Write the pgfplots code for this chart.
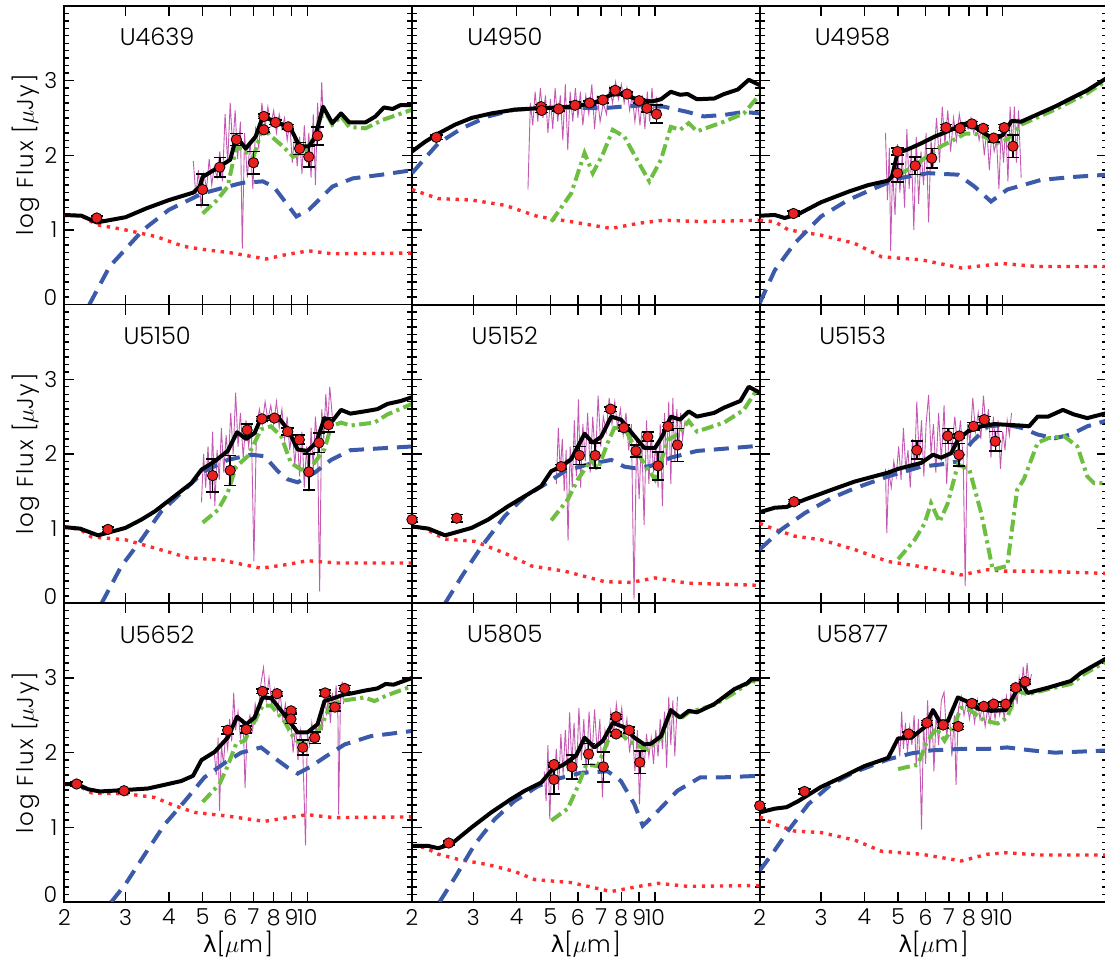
\documentclass[border=0pt]{standalone}
\usepackage{fontspec}
\setmainfont{Poppins}[UprightFont=* Light]
\newfontfamily\labfont{Poppins}[UprightFont=* Light, LetterSpace=8]
\newfontfamily\greekfont{DejaVu Sans}
\usepackage{pgfplots}
\pgfplotsset{compat=1.18}
\definecolor{mblue}{RGB}{60,90,170}
\definecolor{mred}{RGB}{255,45,45}
\definecolor{mgreen}{RGB}{110,190,65}
\definecolor{mmag}{RGB}{185,60,165}
\definecolor{pred}{RGB}{232,32,32}
\pgfplotsset{
 every axis/.append style={
  xmode=log, xmin=2, xmax=20, ymin=0, ymax=4,
  width=173.85pt, height=149.35pt, scale only axis, anchor=south west,
  axis line style={line width=0.9pt},
  tick align=inside,
  xtick={2,3,4,5,6,7,8,9,10,20}, minor xtick={}, xticklabels={},
  ytick={0,1,2,3}, yticklabels={},
  minor ytick={0.1,0.2,0.3,0.4,0.5,0.6,0.7,0.8,0.9,1.1,1.2,1.3,1.4,1.5,1.6,1.7,1.8,1.9,2.1,2.2,2.3,2.4,2.5,2.6,2.7,2.8,2.9,3.1,3.2,3.3,3.4,3.5,3.6,3.7,3.8,3.9},
  major tick length=5pt, minor tick length=2.5pt,
  tick style={line width=0.7pt, black},
  tick label style={font=\fontsize{11}{12}\selectfont},
  label style={font=\labfont\fontsize{11.5}{13}\selectfont},
 },
 sedbottom/.style={xticklabels={2,3,4,5,6,7,8,9,10,}, xlabel={{\greekfont λ}[$\mu$m]},
   xlabel style={yshift=4pt}},
 sedleft/.style={yticklabels={\raisebox{7pt}{0},1,2,3}, ylabel={log Flux [$\mu$Jy]},
   ylabel style={at={(axis description cs:-0.11,0.5)}, anchor=center}},
 sedspec/.style={mmag, line width=0.45pt, opacity=0.85},
 seddot/.style={mred, line width=1.7pt, dash pattern=on 1.7pt off 2.8pt},
 seddash/.style={mblue, line width=2pt, dash pattern=on 7.5pt off 4.5pt},
 seddashdot/.style={mgreen, line width=2pt, dash pattern=on 6pt off 2.2pt on 1.6pt off 2.2pt},
 sedblack/.style={black, line width=2pt, line join=round},
 sedpts/.style={only marks, mark=*, mark size=2.6pt, mark options={fill=pred, draw=black, line width=0.4pt},
   error bars/y dir=both, error bars/y explicit, error bars/error bar style={black, line width=0.8pt},
   error bars/error mark options={rotate=90, black, mark size=3.1pt, line width=0.8pt}},
}
\tikzset{sedname/.style={font=\fontsize{12}{13}\selectfont}}
\begin{document}
\begin{tikzpicture}
\path[use as bounding box] (0,0) rectangle (552.5pt,482.5pt);
% ---------------- U4639
\begin{axis}[sedleft, at={(32.15pt,330.2pt)}]
\addplot[sedspec] coordinates {(4.70,1.92)(4.78,1.45)(4.86,1.80)(4.95,1.30)(5.04,1.75)(5.13,1.55)(5.22,1.95)(5.31,1.60)(5.40,1.85)(5.50,1.70)(5.60,2.05)(5.70,1.65)(5.80,2.55)(5.90,1.90)(6.00,2.70)(6.10,2.10)(6.20,2.60)(6.30,1.95)(6.42,2.45)(6.50,0.75)(6.60,2.30)(6.72,1.70)(6.85,2.20)(6.97,1.55)(7.10,2.35)(7.25,2.10)(7.40,2.70)(7.55,2.35)(7.70,2.65)(7.85,2.40)(8.00,2.60)(8.15,2.30)(8.30,2.55)(8.45,2.35)(8.60,2.50)(8.75,2.20)(8.90,2.45)(9.05,1.90)(9.20,2.30)(9.35,1.85)(9.50,2.25)(9.65,1.75)(9.80,2.40)(9.95,1.90)(10.1,2.30)(10.25,1.70)(10.4,2.55)(10.55,1.60)(10.7,2.70)(10.85,2.20)(11.0,2.98)(11.1,2.50)};
\addplot[seddot] coordinates {(2,1.20)(2.24,1.19)(2.48,1.07)(3.0,1.0)(3.68,0.91)(4.4,0.78)(5.0,0.74)(6.1,0.69)(7.6,0.61)(8.7,0.67)(10.1,0.72)(11.8,0.68)(20,0.69)};
\addplot[seddash] coordinates {(2.36,0.0)(2.70,0.51)(3.37,1.0)(4.0,1.27)(5.0,1.49)(5.9,1.58)(6.5,1.63)(7.45,1.65)(8,1.58)(9.3,1.18)(10.1,1.27)(11.8,1.58)(13.5,1.69)(16.4,1.74)(20,1.80)};
\addplot[seddashdot] coordinates {(5.0,1.22)(5.5,1.40)(5.9,1.58)(6.25,2.12)(7.0,1.98)(7.45,2.38)(7.8,2.27)(8.5,2.12)(9.1,1.98)(10,2.09)(10.6,2.29)(11.1,2.63)(11.8,2.41)(12.5,2.52)(13.2,2.38)(14.7,2.36)(16.4,2.47)(20,2.61)};
\addplot[sedblack] coordinates {(2,1.20)(2.24,1.19)(2.48,1.10)(3.0,1.17)(3.45,1.29)(4.0,1.40)(4.7,1.50)(4.9,1.58)(5.0,1.71)(5.6,1.85)(6.0,1.94)(6.25,2.25)(6.65,2.09)(7.1,2.25)(7.45,2.52)(8.0,2.46)(8.5,2.41)(9.0,2.34)(9.5,2.12)(10.1,2.12)(10.5,2.23)(11.1,2.65)(11.8,2.43)(12.5,2.56)(13.2,2.44)(14.7,2.44)(15.7,2.52)(16.6,2.64)(17.6,2.62)(18.5,2.67)(20,2.67)};
\addplot[sedpts] table[y error index=2] {
x y e
2.48 1.16 0.03
5.0 1.54 0.21
5.6 1.84 0.13
6.25 2.21 0.08
7.0 1.90 0.15
7.5 2.52 0.03
7.5 2.34 0.03
8.1 2.44 0.03
8.8 2.38 0.03
9.5 2.09 0.08
10.1 1.98 0.14
10.7 2.26 0.12
};
\node[sedname] at (rel axis cs:0.267,0.896) {U4639};
\end{axis}
% ---------------- U4950
\begin{axis}[at={(206.0pt,330.2pt)}]
\addplot[sedspec] coordinates {(4.31,1.54)(4.38,2.70)(4.45,2.40)(4.52,2.85)(4.60,2.45)(4.68,2.90)(4.76,2.50)(4.84,2.80)(4.92,2.30)(5.00,2.75)(5.08,2.35)(5.16,2.90)(5.25,2.45)(5.34,2.80)(5.43,2.20)(5.52,2.95)(5.61,2.07)(5.70,2.85)(5.80,2.45)(5.90,2.90)(6.00,2.50)(6.10,2.85)(6.20,2.40)(6.32,2.80)(6.45,2.55)(6.58,2.95)(6.70,2.35)(6.82,2.80)(6.95,2.45)(7.10,2.70)(7.25,2.55)(7.40,2.90)(7.55,2.70)(7.70,2.98)(7.85,2.75)(8.00,2.95)(8.15,2.70)(8.30,2.90)(8.45,2.60)(8.60,2.80)(8.75,2.45)(8.90,2.75)(9.05,2.40)(9.20,2.80)(9.35,2.35)(9.50,2.85)(9.65,2.45)(9.80,2.90)(9.95,2.50)(10.1,2.75)(10.25,2.55)(10.4,2.70)};
\addplot[seddot] coordinates {(2,1.54)(2.38,1.42)(2.97,1.40)(3.7,1.33)(4.6,1.18)(5.74,1.11)(7.48,1.02)(9,1.09)(10.6,1.13)(13.8,1.11)(20,1.13)};
\addplot[seddash] coordinates {(2,1.76)(2.18,1.96)(2.38,2.16)(2.78,2.36)(3.31,2.52)(3.94,2.61)(5.2,2.64)(7.1,2.63)(8,2.65)(9.3,2.67)(10.6,2.65)(12.4,2.58)(13.8,2.52)(15.8,2.54)(18.0,2.58)(20,2.56)};
\addplot[seddashdot] coordinates {(5.03,1.11)(5.74,1.49)(6.27,2.03)(6.62,1.76)(7.1,2.03)(7.56,2.34)(8.16,2.25)(9.0,1.89)(9.63,1.65)(10.4,1.94)(11.1,2.38)(11.8,2.34)(12.5,2.43)(13.2,2.32)(15.8,2.45)(18.0,2.56)(20,2.81)};
\addplot[sedblack] coordinates {(2,2.05)(2.18,2.18)(2.38,2.29)(2.66,2.41)(2.97,2.50)(3.38,2.56)(3.94,2.61)(4.6,2.63)(5.37,2.64)(6.0,2.66)(6.84,2.72)(7.48,2.81)(8.0,2.82)(9.0,2.74)(9.8,2.72)(10.4,2.75)(11.1,2.85)(11.8,2.81)(12.4,2.82)(13.2,2.75)(14.8,2.76)(15.8,2.82)(17.3,2.88)(18.6,3.01)(20,2.94)};
\addplot[sedpts] table[y error index=2] {
x y e
2.35 2.24 0.03
4.70 2.65 0.03
4.72 2.60 0.03
5.28 2.62 0.03
5.89 2.67 0.04
6.48 2.70 0.03
7.08 2.74 0.04
7.68 2.87 0.03
8.31 2.82 0.03
9.0 2.73 0.03
9.48 2.63 0.05
10.1 2.55 0.12
};
\node[sedname] at (rel axis cs:0.267,0.896) {U4950};
\end{axis}
% ---------------- U4958
\begin{axis}[at={(379.85pt,330.2pt)}]
\addplot[sedspec] coordinates {(4.60,2.30)(4.66,1.40)(4.72,2.10)(4.76,0.72)(4.82,1.80)(4.90,1.20)(4.98,2.15)(5.06,1.50)(5.14,2.00)(5.22,1.30)(5.30,2.35)(5.38,1.55)(5.46,2.10)(5.55,1.00)(5.64,2.25)(5.73,1.35)(5.82,2.05)(5.92,1.60)(6.02,2.30)(6.12,1.10)(6.22,2.20)(6.32,1.85)(6.45,2.50)(6.58,1.90)(6.70,2.65)(6.82,2.15)(6.95,2.60)(7.08,2.05)(7.22,2.50)(7.36,2.20)(7.50,2.55)(7.65,2.30)(7.80,2.45)(7.95,2.35)(8.10,2.50)(8.25,2.30)(8.40,2.45)(8.55,2.20)(8.70,2.40)(8.85,2.00)(9.00,2.35)(9.15,1.80)(9.30,2.30)(9.45,2.05)(9.60,2.20)(9.75,1.55)(9.90,2.35)(10.05,1.90)(10.2,2.40)(10.35,1.65)(10.5,2.65)(10.65,2.10)(10.8,2.65)(10.95,1.90)(11.1,2.60)(11.3,1.70)};
\addplot[seddot] coordinates {(2,1.13)(2.21,1.11)(2.42,1.0)(3.0,0.93)(3.75,0.82)(4.48,0.64)(5.83,0.6)(7.6,0.49)(10,0.55)(12.6,0.51)(20,0.51)};
\addplot[seddash] coordinates {(2,0.02)(2.21,0.46)(2.52,0.82)(3.0,1.18)(3.59,1.40)(4.19,1.54)(5.0,1.69)(6.1,1.76)(7.43,1.74)(8.3,1.58)(9.25,1.38)(10.3,1.54)(12.9,1.67)(16.0,1.71)(20,1.74)};
\addplot[seddashdot] coordinates {(5.0,1.74)(5.46,1.83)(5.96,1.96)(6.65,2.12)(7.26,2.21)(7.8,2.29)(8.3,2.29)(8.85,2.25)(9.57,2.16)(10.3,2.21)(11.3,2.41)(14.1,2.61)(17.5,2.83)(20,3.01)};
\addplot[sedblack] coordinates {(2,1.19)(2.21,1.20)(2.36,1.16)(2.58,1.21)(3.0,1.37)(3.59,1.51)(4.1,1.60)(4.68,1.66)(4.8,1.71)(4.98,2.03)(5.34,2.08)(5.83,2.16)(6.37,2.25)(6.7,2.29)(7.26,2.36)(7.6,2.42)(8.1,2.41)(8.67,2.32)(9.46,2.21)(10,2.27)(10.6,2.46)(11.3,2.45)(14.1,2.65)(17.5,2.87)(20,3.04)};
\addplot[sedpts] table[y error index=2] {
x y e
2.50 1.22 0.03
4.98 2.05 0.05
4.98 1.76 0.12
5.6 1.86 0.12
6.25 1.96 0.13
6.87 2.37 0.04
7.54 2.36 0.03
8.15 2.42 0.03
8.79 2.36 0.04
9.42 2.23 0.05
10.1 2.37 0.04
10.7 2.12 0.15
};
\node[sedname] at (rel axis cs:0.267,0.896) {U4958};
\end{axis}
% ---------------- U5150
\begin{axis}[sedleft, at={(32.15pt,180.85pt)}]
\addplot[sedspec] coordinates {(4.96,1.35)(5.03,2.00)(5.10,1.55)(5.18,2.10)(5.26,1.40)(5.34,2.30)(5.42,1.30)(5.50,2.05)(5.58,1.65)(5.66,2.35)(5.75,1.75)(5.84,2.25)(5.93,1.90)(6.02,2.55)(6.12,2.00)(6.22,2.82)(6.32,2.10)(6.42,2.55)(6.54,1.95)(6.66,2.45)(6.78,2.10)(6.90,2.40)(7.02,0.56)(7.14,2.35)(7.28,2.60)(7.42,2.40)(7.56,2.70)(7.70,2.45)(7.85,2.65)(8.00,2.40)(8.15,2.70)(8.30,2.35)(8.45,2.60)(8.60,2.20)(8.75,2.50)(8.90,2.05)(9.05,2.35)(9.20,1.85)(9.35,2.25)(9.50,1.70)(9.65,2.30)(9.80,1.55)(9.95,2.10)(10.1,1.50)(10.25,2.35)(10.4,1.80)(10.55,2.50)(10.7,2.10)(10.85,0.16)(11.0,2.60)(11.15,2.20)(11.3,2.80)(11.45,2.40)(11.6,2.90)(11.8,2.50)};
\addplot[seddot] coordinates {(2,1.02)(2.22,0.99)(2.39,0.89)(3.0,0.85)(3.64,0.74)(4.54,0.61)(5.65,0.58)(7.36,0.47)(8.78,0.52)(10,0.57)(12.2,0.54)(20,0.54)};
\addplot[seddash] coordinates {(2.56,0.0)(2.92,0.50)(3.33,0.85)(3.8,1.23)(4.34,1.48)(5.06,1.77)(5.9,1.92)(6.89,1.99)(7.53,1.97)(8.22,1.77)(8.78,1.66)(9.38,1.62)(10.5,1.75)(11.7,1.92)(13.3,2.05)(15.6,2.07)(20,2.10)};
\addplot[seddashdot] coordinates {(5.0,1.08)(5.53,1.25)(5.9,1.48)(6.24,1.83)(6.74,1.97)(7.05,2.15)(7.36,2.33)(7.86,2.37)(8.4,2.24)(8.97,1.88)(9.6,1.79)(10.2,1.81)(11.2,2.06)(11.7,2.37)(12.5,2.42)(13.3,2.38)(15.6,2.42)(17.0,2.53)(20,2.67)};
\addplot[sedblack] coordinates {(2,1.02)(2.22,1.0)(2.5,0.91)(3.0,1.01)(3.33,1.12)(3.64,1.23)(4.06,1.40)(4.64,1.61)(4.96,1.79)(5.41,1.90)(5.9,2.04)(6.28,2.29)(6.67,2.20)(7.05,2.28)(7.36,2.48)(8.22,2.50)(8.78,2.33)(9.38,2.06)(10.0,2.04)(10.6,2.15)(11.2,2.48)(11.8,2.44)(12.5,2.59)(13.3,2.54)(14.6,2.57)(15.9,2.60)(17.0,2.67)(18.6,2.71)(20,2.76)};
\addplot[sedpts] table[y error index=2] {
x y e
2.67 0.99 0.03
5.34 1.71 0.22
6.0 1.78 0.20
6.71 2.32 0.08
7.4 2.47 0.03
8.04 2.48 0.03
8.78 2.30 0.05
9.48 2.19 0.06
10.1 1.76 0.24
10.8 2.15 0.13
11.5 2.39 0.10
};
\node[sedname] at (rel axis cs:0.267,0.896) {U5150};
\end{axis}
% ---------------- U5152
\begin{axis}[at={(206.0pt,180.85pt)}]
\addplot[sedspec] coordinates {(5.20,1.60)(5.27,2.35)(5.34,1.75)(5.41,2.20)(5.48,1.50)(5.55,2.05)(5.62,0.84)(5.70,2.10)(5.78,1.55)(5.86,2.45)(5.94,1.70)(6.02,2.73)(6.11,1.55)(6.20,2.40)(6.30,1.90)(6.40,2.55)(6.51,1.75)(6.62,2.50)(6.74,1.90)(6.86,2.78)(6.98,2.10)(7.10,2.50)(7.24,2.30)(7.38,2.75)(7.52,2.40)(7.66,2.70)(7.80,2.35)(7.95,2.60)(8.10,2.25)(8.25,2.55)(8.40,2.05)(8.55,2.40)(8.70,0.05)(8.85,2.20)(9.00,1.40)(9.15,2.30)(9.30,1.05)(9.45,2.45)(9.60,1.60)(9.75,2.30)(9.90,1.75)(10.05,2.15)(10.2,1.55)(10.35,2.40)(10.5,1.30)(10.65,2.55)(10.8,1.85)(10.95,2.70)(11.1,1.60)(11.25,2.75)(11.4,1.90)(11.55,2.60)(11.7,2.10)(11.85,2.55)(12.0,2.20)(12.2,2.45)};
\addplot[seddot] coordinates {(2,1.03)(2.18,1.0)(2.49,0.86)(3.03,0.83)(3.7,0.67)(4.41,0.50)(5.5,0.43)(7.16,0.29)(8.53,0.28)(10,0.34)(12.4,0.27)(20,0.24)};
\addplot[seddash] coordinates {(2.49,0.0)(2.78,0.36)(3.17,0.76)(3.7,1.17)(4.22,1.43)(4.81,1.59)(5.5,1.77)(6.41,1.86)(7.48,1.92)(8.16,1.83)(8.72,1.81)(9.73,1.84)(11.1,1.95)(13.2,2.04)(15.8,2.07)(20,2.11)};
\addplot[seddashdot] coordinates {(5.03,1.11)(5.61,1.39)(6.0,1.66)(6.55,1.92)(6.84,1.79)(7.31,2.15)(7.64,2.35)(8.16,2.35)(8.72,2.10)(9.32,1.86)(10,1.66)(10.9,2.19)(11.6,2.26)(12.5,2.44)(13.2,2.30)(15.8,2.42)(18,2.59)(19.5,2.84)(20,2.84)};
\addplot[sedblack] coordinates {(2,1.03)(2.23,1.0)(2.49,0.91)(2.97,1.01)(3.31,1.12)(3.78,1.30)(4.31,1.46)(4.71,1.57)(5.03,1.77)(5.37,1.83)(5.74,1.93)(6.27,2.27)(6.62,2.15)(7.0,2.23)(7.48,2.50)(7.98,2.46)(8.72,2.24)(9.32,2.08)(10,2.08)(10.5,2.24)(11.1,2.50)(11.8,2.46)(12.5,2.57)(13.2,2.50)(14.8,2.55)(15.8,2.62)(17.6,2.71)(18.6,2.90)(20,2.82)};
\addplot[sedpts] table[y error index=2] {
x y e
2.0 1.12 0.03
2.69 1.14 0.05
5.37 1.83 0.03
6.06 1.98 0.12
6.73 1.98 0.17
7.45 2.60 0.03
8.13 2.35 0.04
8.81 2.04 0.08
9.53 2.23 0.06
10.2 1.84 0.19
10.9 2.37 0.05
11.6 2.12 0.22
};
\node[sedname] at (rel axis cs:0.267,0.896) {U5152};
\end{axis}
% ---------------- U5153
\begin{axis}[at={(379.85pt,180.85pt)}]
\addplot[sedspec] coordinates {(4.60,1.80)(4.64,0.94)(4.70,1.75)(4.78,1.55)(4.86,1.90)(4.94,1.70)(5.02,2.10)(5.10,1.65)(5.18,2.35)(5.26,1.80)(5.34,2.05)(5.42,1.55)(5.50,2.20)(5.58,1.85)(5.66,2.70)(5.75,1.95)(5.84,2.45)(5.93,1.70)(6.02,2.40)(6.12,2.79)(6.22,2.00)(6.32,2.40)(6.42,1.75)(6.54,2.55)(6.66,1.90)(6.78,2.65)(6.90,1.60)(7.02,2.35)(7.14,2.05)(7.28,2.50)(7.42,2.10)(7.56,2.45)(7.70,1.90)(7.80,0.23)(7.92,2.40)(8.05,2.15)(8.20,2.75)(8.35,2.30)(8.50,2.55)(8.65,2.20)(8.80,2.78)(8.95,2.35)(9.10,2.60)(9.25,1.95)(9.40,2.50)(9.55,2.05)(9.70,2.45)(9.85,1.80)(10.0,2.30)(10.15,2.05)(10.3,2.45)(10.45,2.25)(10.6,2.55)};
\addplot[seddot] coordinates {(2,1.07)(2.21,0.99)(2.52,0.90)(3.01,0.85)(3.75,0.72)(4.68,0.56)(5.83,0.49)(7.59,0.38)(9.06,0.45)(10.1,0.43)(12.6,0.43)(20,0.40)};
\addplot[seddash] coordinates {(2,0.72)(2.31,0.99)(2.70,1.21)(3.22,1.41)(3.75,1.54)(4.68,1.70)(5.83,1.83)(6.65,1.86)(7.43,1.90)(8.11,2.15)(9.06,2.37)(10.3,2.39)(11.3,2.35)(12.6,2.26)(14.1,2.21)(15.7,2.26)(17.5,2.37)(20,2.45)};
\addplot[seddashdot] coordinates {(5.0,0.59)(5.58,0.85)(5.96,1.07)(6.22,1.34)(6.58,1.09)(6.95,1.34)(7.43,1.86)(8.02,1.79)(8.67,1.21)(9.36,0.45)(10.3,0.50)(11.0,1.52)(11.5,1.66)(12.6,2.15)(13.5,2.21)(15.0,2.24)(16.4,2.10)(17.5,1.70)(18.3,1.61)(20,1.61)};
\addplot[sedblack] coordinates {(2,1.22)(2.21,1.28)(2.39,1.29)(2.70,1.39)(3.22,1.52)(3.75,1.63)(4.68,1.75)(5.0,1.80)(5.83,1.88)(6.3,1.99)(6.65,1.95)(7.11,2.01)(7.43,2.19)(7.93,2.30)(8.67,2.37)(9.46,2.40)(10.3,2.39)(11.3,2.38)(11.9,2.37)(12.6,2.50)(13.5,2.50)(14.9,2.59)(16.0,2.53)(17.5,2.48)(20,2.55)};
\addplot[sedpts] table[y error index=2] {
x y e
2.51 1.36 0.03
5.66 2.05 0.12
6.95 2.24 0.10
7.5 2.24 0.03
7.48 1.99 0.15
8.24 2.37 0.05
8.85 2.46 0.04
9.52 2.17 0.13
};
\node[sedname] at (rel axis cs:0.267,0.896) {U5153};
\end{axis}
% ---------------- U5652
\begin{axis}[sedleft, sedbottom, at={(32.15pt,31.5pt)}]
\addplot[sedspec] coordinates {(5.40,2.00)(5.47,1.70)(5.54,2.20)(5.59,1.22)(5.66,2.10)(5.74,1.85)(5.82,2.25)(5.90,2.05)(5.98,2.45)(6.06,2.15)(6.14,2.80)(6.22,2.30)(6.32,2.55)(6.42,2.20)(6.54,2.45)(6.62,1.53)(6.72,2.35)(6.84,2.50)(6.96,2.30)(7.08,2.65)(7.20,2.45)(7.34,2.90)(7.48,3.14)(7.62,2.70)(7.76,3.00)(7.90,2.65)(8.05,2.85)(8.20,2.55)(8.35,2.80)(8.50,2.45)(8.65,2.65)(8.80,2.30)(8.95,2.50)(9.10,2.00)(9.25,2.35)(9.40,1.90)(9.55,2.30)(9.70,2.05)(9.88,0.76)(10.0,2.25)(10.15,2.10)(10.3,2.40)(10.45,2.15)(10.6,2.35)(10.75,2.20)(10.9,2.55)(11.05,2.30)(11.2,2.85)(11.35,2.50)(11.5,2.75)(11.65,2.40)(11.8,2.80)(11.95,2.55)(12.1,2.90)(12.25,2.45)(12.3,1.17)(12.45,2.70)(12.6,2.95)(12.7,2.65)};
\addplot[seddot] coordinates {(2,1.58)(2.17,1.57)(2.40,1.46)(3.0,1.45)(3.64,1.40)(4.15,1.29)(4.74,1.20)(5.9,1.15)(7.53,1.08)(8.78,1.13)(10,1.17)(11.9,1.13)(20,1.14)};
\addplot[seddash] coordinates {(2.73,0.0)(3.0,0.24)(3.41,0.64)(3.89,1.04)(4.44,1.35)(5.06,1.67)(5.9,1.89)(6.45,2.0)(7.36,2.07)(8.04,1.93)(8.78,1.80)(9.38,1.72)(10.2,1.81)(11.4,1.96)(12.8,2.11)(15.2,2.22)(20,2.29)};
\addplot[seddashdot] coordinates {(5.0,1.34)(5.59,1.58)(5.9,1.82)(6.24,2.12)(6.6,2.16)(7.05,2.42)(7.44,2.63)(7.87,2.63)(8.59,2.42)(9.18,2.18)(9.7,2.11)(10.35,2.20)(10.9,2.33)(11.7,2.65)(12.8,2.70)(14.6,2.74)(15.6,2.69)(17.0,2.77)(20,2.89)};
\addplot[sedblack] coordinates {(2,1.58)(2.17,1.58)(2.34,1.51)(2.53,1.48)(3.0,1.50)(3.48,1.52)(3.89,1.57)(4.34,1.62)(4.69,1.69)(4.96,1.90)(5.41,2.01)(5.9,2.20)(6.28,2.48)(6.67,2.38)(7.05,2.47)(7.44,2.74)(7.87,2.73)(8.59,2.51)(9.38,2.27)(10,2.27)(10.7,2.38)(11.2,2.69)(11.9,2.73)(12.8,2.78)(13.3,2.79)(14.6,2.83)(15.9,2.86)(16.8,2.92)(17.7,2.91)(20,3.0)};
\addplot[sedpts] table[y error index=2] {
x y e
2.17 1.58 0.03
2.97 1.49 0.03
5.9 2.30 0.05
6.67 2.31 0.05
7.43 2.82 0.03
8.18 2.79 0.03
8.98 2.56 0.03
8.97 2.45 0.06
9.7 2.07 0.10
10.5 2.20 0.08
11.25 2.80 0.04
12.0 2.61 0.05
12.8 2.86 0.04
};
\node[sedname] at (rel axis cs:0.267,0.896) {U5652};
\end{axis}
% ---------------- U5805
\begin{axis}[sedbottom, at={(206.0pt,31.5pt)}]
\addplot[sedspec] coordinates {(4.80,1.75)(4.86,1.35)(4.92,2.10)(4.98,1.11)(5.05,1.90)(5.12,1.55)(5.20,2.05)(5.28,1.50)(5.36,2.25)(5.44,1.70)(5.52,2.30)(5.60,1.75)(5.68,2.54)(5.76,1.85)(5.85,2.40)(5.94,1.65)(6.04,2.60)(6.14,1.90)(6.24,2.45)(6.34,1.70)(6.46,2.55)(6.58,1.90)(6.70,2.58)(6.82,2.00)(6.94,2.45)(7.06,1.40)(7.18,2.30)(7.32,2.10)(7.46,2.55)(7.60,2.25)(7.74,2.65)(7.88,2.35)(8.02,2.60)(8.16,2.20)(8.30,2.45)(8.45,2.00)(8.60,2.35)(8.75,1.75)(8.90,2.30)(9.02,1.31)(9.15,2.15)(9.30,1.80)(9.45,2.25)(9.60,1.95)(9.75,2.20)(9.90,1.85)(10.05,2.30)(10.2,1.95)(10.35,2.45)(10.5,2.05)(10.65,2.55)(10.8,1.80)(10.95,2.75)(11.1,2.10)(11.25,2.70)(11.4,1.95)(11.6,2.75)};
\addplot[seddot] coordinates {(2,0.75)(2.18,0.73)(2.38,0.64)(2.72,0.57)(3.31,0.50)(3.94,0.41)(4.51,0.30)(5.74,0.26)(7.48,0.14)(9.0,0.21)(10.2,0.25)(12.4,0.21)(20,0.22)};
\addplot[seddash] coordinates {(2.4,0.0)(2.66,0.33)(3.03,0.77)(3.46,1.11)(3.94,1.35)(4.6,1.55)(5.14,1.64)(6.13,1.73)(7.31,1.75)(7.98,1.62)(8.72,1.31)(9.22,1.02)(10.2,1.22)(11.6,1.49)(13.5,1.67)(15.8,1.67)(20,1.69)};
\addplot[seddashdot] coordinates {(5.03,1.09)(5.61,1.25)(6.0,1.55)(6.34,1.84)(6.84,1.82)(7.31,2.15)(7.56,2.26)(8.0,2.24)(8.72,2.11)(9.53,2.04)(10.4,2.20)(11.1,2.56)(11.8,2.45)(12.5,2.54)(14.8,2.64)(16.9,2.80)(18.9,2.96)(20,2.94)};
\addplot[sedblack] coordinates {(2,0.75)(2.23,0.75)(2.38,0.72)(2.6,0.78)(2.97,1.0)(3.38,1.20)(3.86,1.38)(4.22,1.49)(4.71,1.60)(5.03,1.76)(5.46,1.84)(5.93,1.96)(6.27,2.20)(6.7,2.07)(7.08,2.16)(7.56,2.40)(8.16,2.34)(8.72,2.20)(9.32,2.11)(9.74,2.12)(10.4,2.22)(11.1,2.57)(11.8,2.47)(12.5,2.56)(13.2,2.54)(14.8,2.65)(16.9,2.85)(18.4,2.93)(18.9,2.98)(20,2.98)};
\addplot[sedpts] table[y error index=2] {
x y e
2.55 0.79 0.03
5.12 1.84 0.03
5.12 1.64 0.19
5.77 1.81 0.16
6.44 1.98 0.14
7.1 1.81 0.20
7.73 2.25 0.03
7.73 2.48 0.03
8.43 2.30 0.04
9.04 1.87 0.15
};
\node[sedname] at (rel axis cs:0.267,0.896) {U5805};
\end{axis}
% ---------------- U5877
\begin{axis}[sedbottom, at={(379.85pt,31.5pt)}]
\addplot[sedspec] coordinates {(5.00,2.20)(5.06,1.95)(5.12,2.55)(5.18,2.05)(5.25,2.40)(5.32,2.00)(5.40,2.35)(5.48,2.10)(5.56,2.50)(5.64,1.80)(5.72,2.45)(5.80,1.60)(5.84,0.97)(5.92,2.40)(6.00,1.85)(6.08,2.70)(6.16,2.00)(6.25,2.60)(6.34,1.75)(6.44,2.55)(6.54,2.10)(6.66,2.70)(6.78,2.81)(6.90,2.20)(7.02,2.55)(7.14,1.95)(7.26,2.50)(7.34,1.57)(7.46,2.60)(7.60,2.75)(7.74,2.50)(7.88,2.70)(8.02,2.45)(8.16,2.65)(8.30,2.40)(8.45,2.70)(8.60,2.45)(8.75,2.65)(8.90,2.35)(9.05,2.60)(9.20,2.40)(9.35,2.70)(9.50,2.45)(9.65,2.65)(9.80,2.50)(9.95,2.70)(10.1,2.45)(10.25,2.75)(10.4,2.55)(10.55,2.80)(10.7,2.60)(10.85,2.90)(11.0,2.65)(11.15,3.00)(11.3,2.80)(11.45,3.15)(11.6,2.85)(11.75,3.20)(11.9,2.90)(12.1,3.05)};
\addplot[seddot] coordinates {(2,1.14)(2.21,1.04)(2.52,0.95)(3.0,0.93)(3.75,0.83)(4.48,0.68)(5.83,0.64)(7.59,0.55)(9.06,0.64)(10.3,0.66)(12.6,0.63)(20,0.63)};
\addplot[seddash] coordinates {(2,0.42)(2.17,0.64)(2.42,0.96)(2.76,1.31)(3.22,1.58)(3.75,1.74)(4.68,1.91)(5.46,1.99)(6.22,2.03)(7.59,2.05)(9.06,2.05)(10.3,2.07)(12.1,2.03)(14.1,2.0)(16.0,2.01)(20,2.03)};
\addplot[seddashdot] coordinates {(5.0,1.78)(5.70,1.84)(6.02,2.12)(6.44,2.33)(6.8,2.16)(7.26,2.38)(7.59,2.60)(8.11,2.56)(8.85,2.43)(9.67,2.39)(10.3,2.47)(11.0,2.83)(11.8,2.78)(13.5,2.85)(15.7,2.92)(17.1,3.05)(20,3.23)};
\addplot[sedblack] coordinates {(2,1.20)(2.21,1.25)(2.39,1.27)(2.58,1.35)(3.0,1.54)(3.44,1.67)(4.0,1.82)(4.68,1.93)(5.0,2.19)(5.46,2.20)(5.96,2.34)(6.3,2.57)(6.58,2.42)(6.95,2.42)(7.43,2.74)(7.93,2.68)(8.47,2.59)(9.25,2.56)(10.2,2.57)(10.7,2.74)(11.3,2.94)(11.8,2.80)(13.5,2.87)(15.7,2.96)(16.8,3.07)(20,3.27)};
\addplot[sedpts] table[y error index=2] {
x y e
2.0 1.29 0.03
2.69 1.48 0.03
5.36 2.25 0.03
6.05 2.40 0.03
6.74 2.37 0.04
7.45 2.35 0.04
8.15 2.66 0.03
8.82 2.62 0.03
9.42 2.65 0.03
10.2 2.65 0.03
10.9 2.87 0.03
11.6 2.95 0.03
};
\node[sedname] at (rel axis cs:0.267,0.896) {U5877};
\end{axis}
\end{tikzpicture}
\end{document}
